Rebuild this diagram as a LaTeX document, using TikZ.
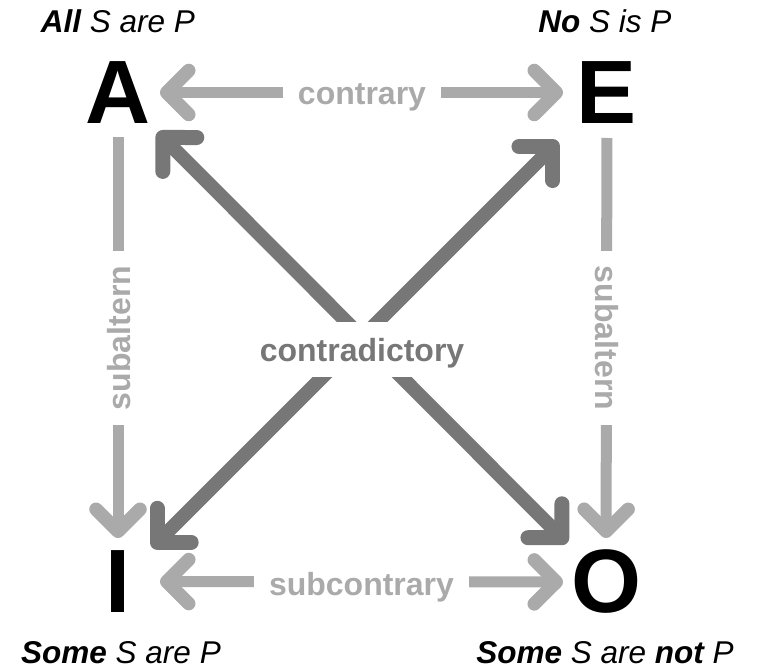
\documentclass[tikz,border=0pt]{standalone}
\usepackage{fontspec}
\setmainfont{Liberation Sans}
\usetikzlibrary{arrows.meta}
\definecolor{lightg}{HTML}{AAAAAA}
\definecolor{darkg}{HTML}{777777}
\tikzset{
  lchev/.tip={Straight Barb[length=22pt, width=44pt, line width=13.5pt, round]},
  dchev/.tip={Straight Barb[length=24pt, width=48pt, line width=15pt, round]},
}
\begin{document}
\begin{tikzpicture}[x=1pt,y=-1pt,
  letter/.style={font=\fontsize{90}{90}\selectfont\bfseries, inner sep=0pt, text=black},
  stmt/.style={font=\fontsize{31.5}{31.5}\selectfont\itshape, inner sep=0pt, anchor=base},
  rel/.style={font=\fontsize{32}{32}\selectfont\bfseries, inner xsep=15pt, inner ysep=4pt, fill=white, text height=24pt, text depth=0pt},
  lightln/.style={draw=lightg, line width=11pt},
  darkln/.style={draw=darkg, line width=14pt},
]
\useasboundingbox (0,0) rectangle (766,671);
% corner letters
\node[letter] (A) at (118,92.5) {A};
\node[letter] (E) at (607,92.5) {E};
\node[letter] (I) at (118,581.5) {I};
\node[letter] (O) at (606,582) {O};
% statements
\node[stmt] (sA) at (118,33) {\bfseries All\mdseries{} S are P};
\node[stmt] (sE) at (605,33) {\bfseries No\mdseries{} S is P};
\node[stmt] (sI) at (121,663) {\bfseries Some\mdseries{} S are P};
\node[stmt] (sO) at (605,663) {\bfseries Some\mdseries{} S are \bfseries not\mdseries{} P};
% connectors
\draw[lightln, {lchev}-{lchev}, shorten <=42pt, shorten >=44pt] (A.center) -- (E.center);
\draw[lightln, {lchev}-{lchev}, shorten <=42pt, shorten >=43pt] (I.center) -- (O.center);
\draw[lightln, -{lchev}, shorten <=44.5pt, shorten >=43.5pt] (A.center) -- (I.center);
\draw[lightln, -{lchev}, shorten <=45.5pt, shorten >=44pt] (E.center) -- (O.center);
\draw[darkln, {dchev}-{dchev}, shorten <=56pt, shorten >=55pt] (A.center) -- (O.center);
\draw[darkln, {dchev}-{dchev}, shorten <=48pt, shorten >=69pt] (I.center) -- (E.center);
% relation labels
\node[rel, text=lightg] (contrary) at (362,93) {contrary};
\node[rel, text=lightg] (subcontrary) at (361.5,583) {subcontrary};
\node[rel, text=lightg, rotate=90] (subaltL) at (118,338) {subaltern};
\node[rel, text=lightg, rotate=-90] (subaltR) at (607,338) {subaltern};
\node[rel, text=darkg, inner xsep=4pt, inner ysep=0pt, minimum height=55pt] (contra) at (362,349.5) {contradictory};
\end{tikzpicture}
\end{document}
